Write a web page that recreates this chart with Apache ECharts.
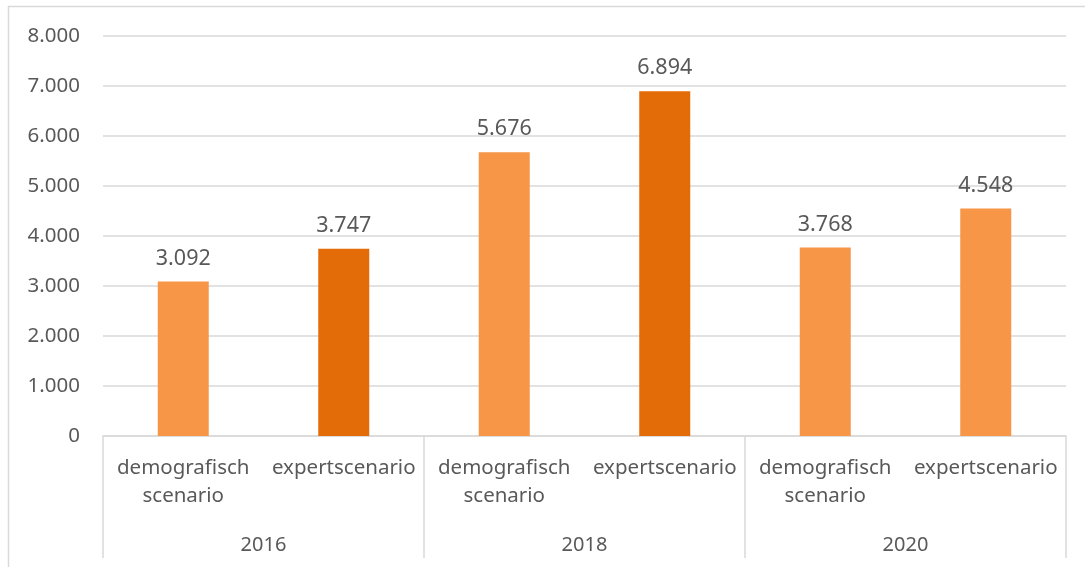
<!DOCTYPE html>
<html>
<head>
<meta charset="utf-8">
<script src="https://cdn.jsdelivr.net/npm/echarts@6/dist/echarts.min.js"></script>
<style>
  html, body { margin: 0; padding: 0; background: #fff; }
  #main { width: 1085px; height: 567px; }
</style>
</head>
<body>
<div id="main"></div>
<script>
var scenarios = ['demografisch\nscenario', 'expertscenario', 'demografisch\nscenario', 'expertscenario', 'demografisch\nscenario', 'expertscenario'];
var years = ['2016', '2018', '2020'];
var values = [3092, 3747, 5676, 6894, 3768, 4548];
var yTicks = [0, 1000, 2000, 3000, 4000, 5000, 6000, 7000, 8000];

// kleuren per staaf (licht / donker oranje)
var barColors = ['#F79646', '#E36C09', '#F79646', '#E36C09', '#F79646', '#F79646'];

var textColor = '#595959';
var lineColor = '#d9d9d9';
var fontFamily = '"Noto Sans", sans-serif';

function dotFormat(v) {
	var n = Math.round(v);
	if (n < 1000) return String(n);
	var rest = String(n % 1000);
	while (rest.length < 3) rest = '0' + rest;
	return Math.floor(n / 1000) + '.' + rest;
}

var myChart = echarts.init(document.getElementById('main'));
var option = {
	animation: false,
	textStyle: { fontFamily: fontFamily },
	graphic: [{
		type: 'rect',
		shape: { x: 8.5, y: 6.5, width: 1090, height: 620 },
		style: { fill: 'none', stroke: lineColor, lineWidth: 1.5 },
		silent: true
	}],
	grid: { left: 103, right: 19, top: 36, bottom: 131 },
	xAxis: [{
		type: 'category',
		data: scenarios,
		position: 'bottom',
		axisLine: { show: true, lineStyle: { color: lineColor, width: 1.5 } },
		axisTick: { show: false },
		axisLabel: {
			color: textColor,
			fontSize: 20.5,
			lineHeight: 28,
			margin: 18,
			interval: 0
		}
	}, {
		type: 'category',
		data: years,
		position: 'bottom',
		axisLine: { show: false },
		axisTick: { show: true, length: 122, lineStyle: { color: lineColor, width: 1.5 } },
		axisLabel: {
			color: textColor,
			fontSize: 20,
			margin: 99,
			interval: 0
		},
		splitLine: { show: false }
	}],
	yAxis: {
		type: 'value',
		min: yTicks[0],
		max: yTicks[yTicks.length - 1],
		interval: 1000,
		axisLine: { show: false },
		axisTick: { show: false },
		axisLabel: {
			color: textColor,
			fontSize: 20.5,
			margin: 23,
			formatter: dotFormat
		},
		splitLine: { lineStyle: { color: lineColor, width: 1.5 } }
	},
	series: [{
		type: 'bar',
		xAxisIndex: 0,
		barWidth: 51,
		data: values.map(function (v, i) {
			return { value: v, itemStyle: { color: barColors[i] } };
		}),
		label: {
			show: true,
			position: 'top',
			distance: 12,
			color: textColor,
			fontSize: 21.5,
			formatter: function (p) { return dotFormat(p.value); }
		}
	}]
};
myChart.setOption(option);
</script>
</body>
</html>
